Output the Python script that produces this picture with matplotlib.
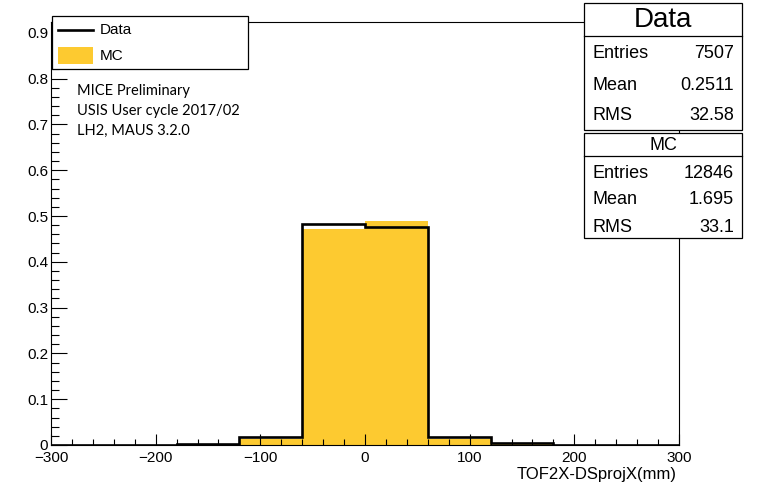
import numpy as np
import matplotlib
matplotlib.use("Agg")
import matplotlib.pyplot as plt
from matplotlib.patches import Rectangle
from matplotlib.lines import Line2D
from matplotlib.ticker import MultipleLocator, FuncFormatter

# histogram contents, 60 mm bins from -300 to 300
bin_edges = [-300, -240, -180, -120, -60, 0, 60, 120, 180, 240, 300]
data_vals = [0.0, 0.001, 0.002, 0.0175, 0.483, 0.477, 0.017, 0.004, 0.001, 0.0]
mc_vals = [0.0, 0.0005, 0.003, 0.013, 0.471, 0.490, 0.013, 0.002, 0.0005, 0.0]

data_stats = [("Entries", "7507"), ("Mean", "0.2511"), ("RMS", "32.58")]
mc_stats = [("Entries", "12846"), ("Mean", "1.695"), ("RMS", "33.1")]
info_lines = ["MICE Preliminary", "USIS User cycle 2017/02", "LH2, MAUS 3.2.0"]

W, H = 757, 488
MC_COLOR = "#fdca30"
plt.rcParams["font.family"] = ["Liberation Sans", "DejaVu Sans"]


def fx(px):
    return px / W


def fy(py):
    return 1 - py / H


fig = plt.figure(figsize=(W / 100, H / 100), dpi=100)
ax = fig.add_axes([fx(51), fy(445), fx(679) - fx(51), fy(22) - fy(445)])

ax.stairs(mc_vals, bin_edges, fill=True, color=MC_COLOR, linewidth=0)
ax.stairs(data_vals, bin_edges, color="black", linewidth=1.9)

ax.set_xlim(-300, 300)
ax.set_ylim(0, 0.9236)
ax.xaxis.set_major_locator(MultipleLocator(100))
ax.xaxis.set_minor_locator(MultipleLocator(20))
ax.yaxis.set_major_locator(MultipleLocator(0.1))
ax.yaxis.set_minor_locator(MultipleLocator(0.02))
ax.yaxis.set_major_formatter(FuncFormatter(lambda v, p: "0" if abs(v) < 1e-9 else f"{v:.1f}"))
ax.xaxis.set_major_formatter(FuncFormatter(lambda v, p: f"\u2212{abs(v):.0f}" if v < 0 else f"{v:.0f}"))
ax.tick_params(axis="x", which="major", direction="in", length=8, width=0.8, labelsize=11, pad=4)
ax.tick_params(axis="x", which="minor", direction="in", length=4, width=0.8)
ax.tick_params(axis="y", which="major", direction="in", length=11.5, width=0.8, labelsize=11, pad=2)
ax.tick_params(axis="y", which="minor", direction="in", length=5.8, width=0.8)
for s in ax.spines.values():
    s.set_linewidth(0.8)

fig.text(fx(677), fy(475), "TOF2X-DSprojX(mm)", ha="right", va="center", fontsize=12)

# legend box
fig.patches.append(Rectangle((fx(52), fy(69)), fx(248) - fx(52), fy(16) - fy(69),
                             transform=fig.transFigure, facecolor="white",
                             edgecolor="black", linewidth=0.9, zorder=5))
fig.lines.append(Line2D([fx(58), fx(93)], [fy(30), fy(30)], transform=fig.transFigure,
                        color="black", linewidth=1.9, zorder=6))
fig.patches.append(Rectangle((fx(58), fy(64)), fx(93) - fx(58), fy(47) - fy(64),
                             transform=fig.transFigure, facecolor=MC_COLOR,
                             edgecolor="none", zorder=6))
fig.text(fx(100), fy(30), "Data", ha="left", va="center", fontsize=11, zorder=7)
fig.text(fx(100), fy(56), "MC", ha="left", va="center", fontsize=11, zorder=7)

for i, line in enumerate(info_lines):
    fig.text(fx(77), fy(91 + 20 * i), line, ha="left", va="center", fontsize=10.5,
             family=["Lato", "DejaVu Sans"])


def stat_box(top, sep, bottom, title, title_y, title_size, rows, row_ys):
    fig.patches.append(Rectangle((fx(584), fy(bottom)), fx(742) - fx(584), fy(top) - fy(bottom),
                                 transform=fig.transFigure, facecolor="white",
                                 edgecolor="black", linewidth=0.9, zorder=5))
    fig.lines.append(Line2D([fx(584), fx(742)], [fy(sep), fy(sep)], transform=fig.transFigure,
                            color="black", linewidth=0.9, zorder=6))
    fig.text(fx(663), fy(title_y), title, ha="center", va="center", fontsize=title_size, zorder=7)
    for (name, val), y in zip(rows, row_ys):
        fig.text(fx(592), fy(y), name, ha="left", va="center", fontsize=13, zorder=7)
        fig.text(fx(734), fy(y), val, ha="right", va="center", fontsize=13, zorder=7)


stat_box(3, 36, 130, "Data", 20, 20, data_stats, [53, 85, 115])
stat_box(133, 156, 238, "MC", 145, 13, mc_stats, [173, 200, 227])

fig.savefig("out.png", dpi=100)
